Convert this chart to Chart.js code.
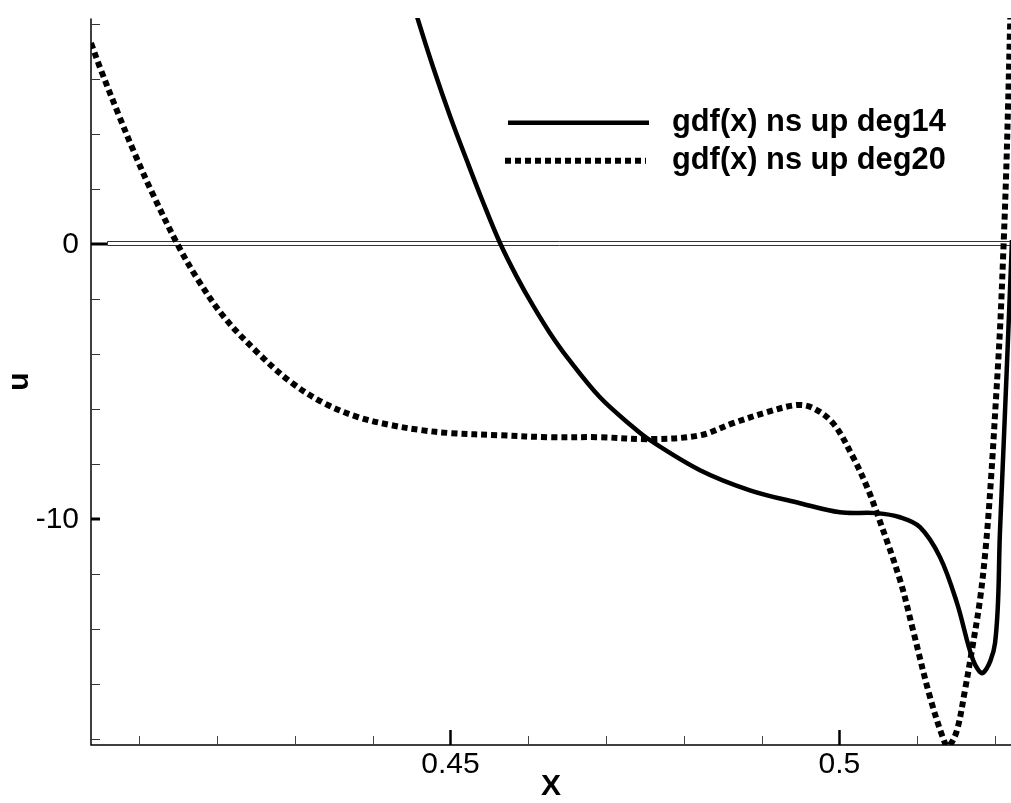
<!DOCTYPE html>
<html>
<head>
<meta charset="utf-8">
<script src="https://cdn.jsdelivr.net/npm/chart.js@4/dist/chart.umd.min.js"></script>
<style>
  html, body { margin: 0; padding: 0; background: #fff; }
  canvas { display: block; }
</style>
</head>
<body>
<canvas id="c" width="1011" height="803"></canvas>
<script>
// ---- data ----
const seriesNames = ['gdf(x) ns up deg14', 'gdf(x) ns up deg20'];

const deg14X = [0.44480, 0.44583, 0.44776, 0.44994, 0.45213, 0.45418, 0.45637, 0.45855, 0.46061, 0.46280,
                0.46499, 0.46922, 0.47346, 0.47565, 0.48208, 0.48850, 0.49493, 0.50007, 0.50483,
                0.50779, 0.51036, 0.51293, 0.51512, 0.51718, 0.51846, 0.52001, 0.52065, 0.52155, 0.52219];
const deg14U = [9.17, 8.16, 6.45, 4.67, 3.03, 1.54, 0.05, -1.19, -2.23, -3.23,
                -4.10, -5.56, -6.64, -7.12, -8.21, -8.94, -9.41, -9.74, -9.77,
                -9.92, -10.28, -11.37, -13.04, -15.11, -15.58, -14.49, -10.38, -4.31, 0.16];

const deg20X = [0.40379, 0.40508, 0.40726, 0.40932, 0.41150, 0.41497, 0.41755, 0.42089, 0.42526, 0.42950,
                0.43374, 0.43811, 0.44236, 0.44621, 0.44994, 0.45637, 0.46280, 0.46922, 0.47565, 0.48208,
                0.48632, 0.49069, 0.49455, 0.49661, 0.49918, 0.50175, 0.50355, 0.50483, 0.50779, 0.50946,
                0.51165, 0.51357, 0.51409, 0.51512, 0.51614, 0.51704, 0.51807, 0.51884, 0.51948, 0.52012,
                0.52064, 0.52103, 0.52141, 0.52167, 0.52193, 0.52218];
const deg20U = [7.32, 6.33, 4.77, 3.36, 1.97, -0.03, -1.29, -2.64, -3.95, -5.01,
                -5.77, -6.28, -6.57, -6.75, -6.86, -6.94, -7.01, -7.01, -7.08, -6.94,
                -6.50, -6.10, -5.84, -5.95, -6.50, -7.73, -8.82, -9.77, -12.20, -14.02,
                -16.46, -18.13, -18.24, -17.66, -16.21, -14.75, -12.93, -10.93, -8.57, -5.66,
                -3.12, -0.57, 2.34, 4.88, 7.78, 10.3];

const xRange = [0.40379, 0.52206];
const yRange = [-18.2, 8.23];
const xStep = 0.01;
const yStep = 2;
const xTickLabels = [0.45, 0.5];
const yTickLabels = [0, -10];
const xTitle = 'X';
const yTitle = 'u';

// ---- chart ----
const FONT = '"Liberation Sans", Arial, Helvetica, sans-serif';
const toPts = (xs, ys) => xs.map((v, i) => ({ x: v, y: ys[i] }));
const labelFor = (list) => (v) => {
  const hit = list.find(t => Math.abs(t - v) < 1e-9);
  return hit === undefined ? '' : String(hit);
};

const axesPlugin = {
  id: 'tecplotAxes',
  beforeDatasetsDraw(chart) {
    const { ctx, chartArea: a, scales: { y } } = chart;
    const y0 = Math.round(y.getPixelForValue(0));
    ctx.save();
    ctx.fillStyle = '#fff';
    ctx.strokeStyle = '#333';
    ctx.lineWidth = 1;
    ctx.beginPath();
    ctx.rect(107.5, y0 - 2.5, a.right - 107.5 + 3, 4);
    ctx.fill();
    ctx.stroke();
    ctx.restore();
  },
  afterDatasetsDraw(chart) {
    const { ctx, chartArea: a, scales: { x, y } } = chart;
    ctx.save();
    ctx.strokeStyle = '#000';
    ctx.lineCap = 'butt';
    ctx.lineWidth = 1.5;
    ctx.beginPath();
    ctx.moveTo(a.left, a.top + 0.5);
    ctx.lineTo(a.left, a.bottom);
    ctx.lineTo(a.right, a.bottom);
    ctx.stroke();
    y.ticks.forEach(t => {
      const py = Math.round(y.getPixelForValue(t.value));
      const major = yTickLabels.some(v => Math.abs(v - t.value) < 1e-9);
      ctx.lineWidth = major ? 3 : 1;
      ctx.strokeStyle = major ? '#000' : '#333';
      ctx.beginPath();
      ctx.moveTo(a.left, py + (major ? 0 : 0.5));
      ctx.lineTo(a.left + (major && Math.abs(t.value) < 1e-9 ? 16 : 9), py + (major ? 0 : 0.5));
      ctx.stroke();
    });
    x.ticks.forEach(t => {
      const px = Math.round(x.getPixelForValue(t.value));
      const major = xTickLabels.some(v => Math.abs(v - t.value) < 1e-9);
      ctx.lineWidth = major ? 2.5 : 1;
      ctx.strokeStyle = major ? '#000' : '#444';
      ctx.beginPath();
      ctx.moveTo(px + 0.5, a.bottom);
      ctx.lineTo(px + 0.5, a.bottom - (major ? 15 : 9));
      ctx.stroke();
    });
    const ds = chart.data.datasets;
    const rows = [
      { y: 122.7, x0: 508, x1: 649, base: 130.5 },
      { y: 160.7, x0: 505, x1: 646, base: 168.5 }
    ];
    rows.forEach((r, i) => {
      const d = ds[i];
      ctx.strokeStyle = d.borderColor;
      ctx.lineWidth = d.borderWidth;
      ctx.setLineDash(d.borderDash || []);
      ctx.beginPath();
      ctx.moveTo(r.x0, r.y);
      ctx.lineTo(r.x1, r.y);
      ctx.stroke();
      ctx.setLineDash([]);
      ctx.fillStyle = '#000';
      ctx.font = 'bold 30.8px ' + FONT;
      ctx.textAlign = 'left';
      ctx.textBaseline = 'alphabetic';
      ctx.fillText(d.label, 672, r.base);
    });
    ctx.restore();
  }
};

new Chart(document.getElementById('c'), {
  type: 'line',
  data: {
    datasets: [
      {
        label: seriesNames[0],
        data: toPts(deg14X, deg14U),
        borderColor: '#000',
        borderWidth: 4.5,
        pointRadius: 0,
        tension: 0.35,
        clip: 0,
        fill: false
      },
      {
        label: seriesNames[1],
        data: toPts(deg20X, deg20U),
        borderColor: '#000',
        borderWidth: 6,
        borderDash: [6, 4],
        borderCapStyle: 'butt',
        pointRadius: 0,
        tension: 0.35,
        clip: 0,
        fill: false
      }
    ]
  },
  options: {
    responsive: false,
    animation: false,
    events: [],
    layout: { padding: { top: 18, right: 0, bottom: 0, left: 0 } },
    plugins: { legend: { display: false }, tooltip: { enabled: false } },
    scales: {
      x: {
        type: 'linear',
        min: xRange[0], max: xRange[1],
        grid: { display: false, drawTicks: false },
        border: { display: false },
        ticks: {
          stepSize: xStep, includeBounds: false, autoSkip: false, maxRotation: 0,
          padding: 2, color: '#000',
          font: { family: FONT, size: 30 },
          callback: labelFor(xTickLabels)
        },
        title: {
          display: true, text: xTitle, color: '#000',
          font: { family: FONT, size: 30, weight: 'bold', lineHeight: 1 },
          padding: { top: 0, bottom: 1 }
        },
        afterFit: (s) => { s.height = 58; s.paddingLeft = 0; s.paddingRight = 0; }
      },
      y: {
        type: 'linear',
        min: yRange[0], max: yRange[1],
        grid: { display: false, drawTicks: false },
        border: { display: false },
        ticks: {
          stepSize: yStep, includeBounds: false, autoSkip: false,
          padding: 12, color: '#000',
          font: { family: FONT, size: 30 },
          callback: labelFor(yTickLabels)
        },
        title: {
          display: true, text: yTitle, color: '#000',
          font: { family: FONT, size: 30, weight: 'bold', lineHeight: 1 },
          padding: { top: 5, bottom: 0 }
        },
        afterFit: (s) => { s.width = 91; s.paddingTop = 0; s.paddingBottom = 0; }
      }
    }
  },
  plugins: [axesPlugin]
});
</script>
</body>
</html>
